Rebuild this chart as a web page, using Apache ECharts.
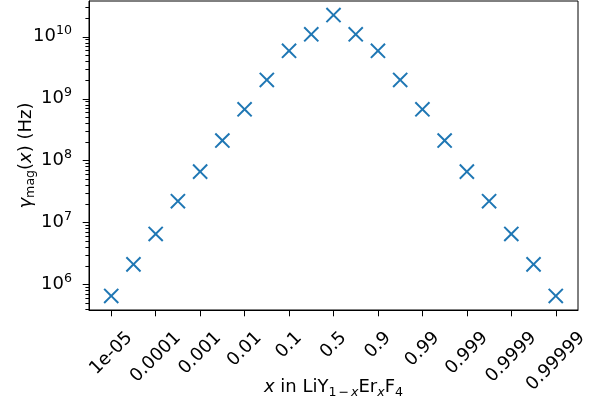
<!DOCTYPE html>
<html>
<head>
<meta charset="utf-8">
<script src="https://cdn.jsdelivr.net/npm/echarts@6/dist/echarts.min.js"></script>
<style>
  html, body { margin: 0; padding: 0; background: #fff; }
  #chart { width: 610px; height: 407px; }
</style>
</head>
<body>
<div id="chart"></div>
<script>
// Er concentration x in LiY(1-x)Er(x)F4, one entry per measured sample
const xValues = ['1e-05', '3e-05', '0.0001', '0.0003', '0.001', '0.003', '0.01', '0.03', '0.1', '0.3',
                 '0.5', '0.7', '0.9', '0.97', '0.99', '0.997', '0.999', '0.9997', '0.9999', '0.99997', '0.99999'];
// Magnetic dipolar linewidth gamma_mag(x) in Hz
const gammaMag = [6.5e5, 2.1e6, 6.5e6, 2.2e7, 6.6e7, 2.1e8, 6.7e8, 2.0e9, 5.9e9, 1.09e10,
                  2.23e10, 1.09e10, 5.9e9, 2.0e9, 6.7e8, 2.1e8, 6.6e7, 2.2e7, 6.5e6, 2.1e6, 6.5e5];
// Labelled x ticks
const xTickLabels = ['1e-05', '0.0001', '0.001', '0.01', '0.1', '0.5', '0.9', '0.99', '0.999', '0.9999', '0.99999'];
// Labelled y decades
const yDecades = [1e6, 1e7, 1e8, 1e9, 1e10];

const FONT = 'DejaVu Sans';
const FS = 18;
const SFS = 12.6;
const BLUE = '#1f77b4';
const Y_MIN = 3.85e5, Y_MAX = 3.76e10;

// one empty slot on each side keeps the outer markers off the frame
const axisSlots = ['lo'].concat(xValues, ['hi']);
const points = gammaMag.map((v, i) => [i + 1, v]);

// rotated x tick labels: [slot, text width]; each box hangs centred under its tick
const ctx = document.createElement('canvas').getContext('2d');
ctx.font = FS + 'px "' + FONT + '"';
const xLabelItems = xTickLabels.map(t => [axisSlots.indexOf(t), ctx.measureText(t).width]);

// major and minor ticks for the log axis: [slot, value, length]
const yTicks = [];
for (let e = 5; e <= 10; e++) {
  for (let k = 1; k <= 9; k++) {
    const v = k * Math.pow(10, e);
    if (v >= Y_MIN && v <= Y_MAX) yTicks.push([0, v, k === 1 ? 6.3 : 3.6]);
  }
}

const chart = echarts.init(document.getElementById('chart'), null, { renderer: 'canvas' });

chart.setOption({
  animation: false,
  backgroundColor: '#fff',
  grid: {
    left: 89, right: 32, top: 1, bottom: 97,
    outerBoundsMode: 'none',
    containLabel: false,
    show: true, borderColor: '#000', borderWidth: 1, backgroundColor: 'transparent'
  },
  xAxis: {
    type: 'category',
    data: axisSlots,
    boundaryGap: false,
    axisLine: { show: true, lineStyle: { color: '#000', width: 1 } },
    axisTick: {
      show: true, length: 6.3, lineStyle: { color: '#000', width: 1 },
      interval: (i, v) => xTickLabels.includes(v)
    },
    axisLabel: { show: false },
    splitLine: { show: false },
    name: '{i|x}{n| in LiY}{s|1}{sm|\u2212}{si|x}{n|Er}{si|x}{n|F}{s|4}',
    nameLocation: 'middle',
    nameGap: 66,
    nameMoveOverlap: false,
    nameTextStyle: {
      rich: {
        n: { fontFamily: FONT, fontSize: FS, color: '#000' },
        i: { fontFamily: FONT, fontSize: FS, fontStyle: 'italic', color: '#000' },
        s: { fontFamily: FONT, fontSize: SFS, color: '#000', padding: [10, 0, 0, 0] },
        sm: { fontFamily: FONT, fontSize: SFS, color: '#000', padding: [10, 2, 0, 2] },
        si: { fontFamily: FONT, fontSize: SFS, fontStyle: 'italic', color: '#000', padding: [10, 0, 0, 0] }
      }
    }
  },
  yAxis: {
    type: 'log',
    logBase: 10,
    min: Y_MIN,
    max: Y_MAX,
    axisLine: { show: true, lineStyle: { color: '#000', width: 1 } },
    axisTick: { show: false },
    splitLine: { show: false },
    minorTick: { show: false },
    axisLabel: {
      margin: 17,
      showMinLabel: false,
      showMaxLabel: false,
      formatter: (v) => {
        const e = Math.round(Math.log10(v));
        const hit = yDecades.some(d => Math.abs(Math.log10(d) - Math.log10(v)) < 1e-6);
        return hit ? '{b|10}{s|' + e + '}' : '';
      },
      rich: {
        b: { fontFamily: FONT, fontSize: FS, color: '#000' },
        s: { fontFamily: FONT, fontSize: SFS, color: '#000', padding: [0, 0, 11, 0] }
      }
    },
    name: '{g|\u03b3}{s|mag}{n|(}{i|x}{n|) (Hz)}',
    nameLocation: 'middle',
    nameRotate: 90,
    nameGap: 52,
    nameMoveOverlap: false,
    nameTextStyle: {
      rich: {
        g: { fontFamily: FONT, fontSize: FS, fontStyle: 'italic', color: '#000' },
        n: { fontFamily: FONT, fontSize: FS, color: '#000' },
        i: { fontFamily: FONT, fontSize: FS, fontStyle: 'italic', color: '#000' },
        s: { fontFamily: FONT, fontSize: SFS, color: '#000', padding: [9, 0, 0, 0] }
      }
    }
  },
  series: [
    {
      // y axis ticks (decades long, 2..9 short)
      type: 'custom',
      silent: true,
      clip: false,
      data: yTicks,
      renderItem: (params, api) => {
        const p = api.coord([api.value(0), api.value(1)]);
        const len = api.value(2);
        const y = Math.round(p[1]) + 0.5;
        return {
          type: 'line',
          shape: { x1: p[0] - len, y1: y, x2: p[0], y2: y },
          style: { stroke: '#000', lineWidth: 1 }
        };
      }
    },
    {
      // rotated x tick labels
      type: 'custom',
      silent: true,
      clip: false,
      data: xLabelItems,
      renderItem: (params, api) => {
        const slot = api.value(0);
        const w = api.value(1);
        const p = api.coord([slot, Y_MIN]);
        return {
          type: 'text',
          x: p[0],
          y: p[1] + 25 + w / (2 * Math.SQRT2),
          rotation: Math.PI / 4,
          style: {
            text: axisSlots[slot],
            fontFamily: FONT, fontSize: FS, fill: '#000',
            align: 'center', verticalAlign: 'middle'
          }
        };
      }
    },
    {
      type: 'scatter',
      data: points,
      symbol: 'path://M-1,-10L1,-10L1,-1L10,-1L10,1L1,1L1,10L-1,10L-1,1L-10,1L-10,-1L-1,-1Z',
      symbolSize: 20,
      symbolRotate: 45,
      itemStyle: { color: BLUE, opacity: 1 }
    }
  ]
});
</script>
</body>
</html>
